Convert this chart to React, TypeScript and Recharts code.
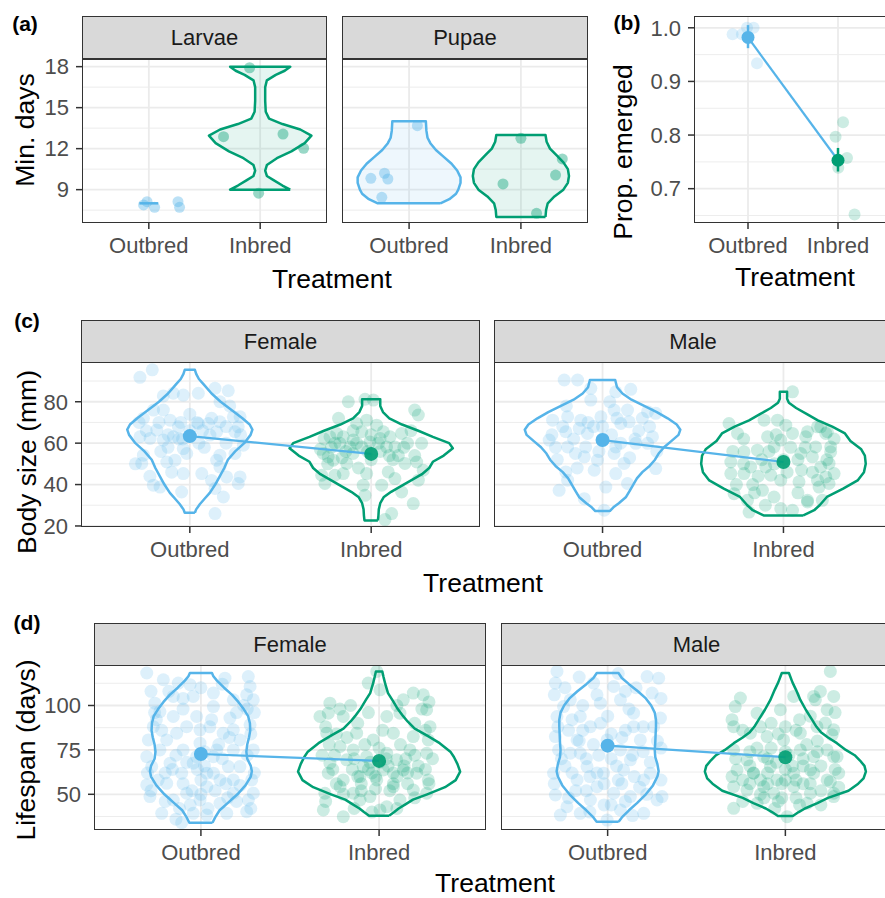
import * as React from 'react';
import { ComposedChart, Scatter, XAxis, YAxis, CartesianGrid } from 'recharts';

const FONT = '"Liberation Sans", Arial, Helvetica, sans-serif';
const BLUE = '#56B4E9';
const GREEN = '#009E73';

const treatments = ['Outbred', 'Inbred'];

// ---- (a) development time ----
const minDaysTicks = [9, 12, 15, 18];
const minDaysMinor = [7.5, 10.5, 13.5, 16.5];
const larvaeOutbredPts = [[0.984, 8.12], [0.953, 7.88], [1.052, 7.71], [1.262, 8.12], [1.276, 7.71]];
const larvaeInbredPts = [[1.905, 17.92], [1.671, 12.88], [2.205, 13.07], [2.39, 12.03], [1.986, 8.74]];
const pupaeOutbredPts = [[1.074, 13.68], [0.658, 9.83], [0.78, 10.2], [0.81, 9.78], [0.756, 8.44]];
const pupaeInbredPts = [[2.0, 12.76], [2.37, 11.25], [2.31, 10.07], [1.84, 9.42], [2.14, 7.27]];
// violin profiles: [value, half width]
const larvaeOutbredViolin = [[8, 0.085]];
const larvaeInbredViolin = [[9, 0.27], [9.3, 0.2], [9.7, 0.12], [10, 0.06], [10.4, 0.045], [10.8, 0.06], [11.3, 0.15], [11.8, 0.28], [12.4, 0.4], [12.95, 0.46], [13.4, 0.36], [13.8, 0.2], [14.2, 0.08], [14.7, 0.05], [15.5, 0.045], [16.5, 0.045], [17, 0.06], [17.4, 0.14], [17.7, 0.22], [18, 0.27]];
const pupaeOutbredViolin = [[8, 0.28], [8.3, 0.36], [8.7, 0.42], [9.0, 0.44], [9.5, 0.46], [9.9, 0.46], [10.4, 0.43], [10.9, 0.38], [11.4, 0.31], [11.9, 0.24], [12.4, 0.19], [12.8, 0.165], [13.3, 0.155], [14, 0.15]];
const pupaeInbredViolin = [[7, 0.22], [7.5, 0.225], [8, 0.24], [8.5, 0.3], [9, 0.38], [9.5, 0.42], [10, 0.43], [10.5, 0.42], [11, 0.38], [11.5, 0.32], [12, 0.26], [12.5, 0.23], [13, 0.22]];

// ---- (b) emergence ----
const emergedTicks = [0.7, 0.8, 0.9, 1.0];
const emergedMinor = [0.65, 0.75, 0.85, 0.95];
const emergedOutbredPts = [[0.829, 0.988], [0.933, 0.988], [0.989, 1.0], [1.062, 1.0], [1.1, 0.934]];
const emergedInbredPts = [[2.056, 0.824], [1.973, 0.797], [2.1, 0.757], [2.003, 0.739], [2.184, 0.652]];
const emergedMeans = [[1, 0.982], [2, 0.753]];
const emergedOutbredCI = [[1, 0.962], [1, 1.005]];
const emergedInbredCI = [[2, 0.732], [2, 0.776]];

// ---- (c) body size ----
const bodyTicks = [20, 40, 60, 80];
const bodyMinor = [30, 50, 70, 90];
const bodyFemaleOutbredPts = [[0.725, 91.8], [0.793, 95.4], [0.854, 82.8], [0.909, 84.1], [0.964, 83.2], [1.047, 84.1], [1.139, 86.5], [1.212, 85.3], [1.166, 80.0], [0.744, 72.0], [0.854, 76.0], [0.891, 71.1], [0.937, 67.9], [0.818, 66.3], [0.781, 62.3], [0.725, 63.1], [0.854, 61.5], [0.909, 63.1], [1.047, 69.5], [1.102, 69.5], [1.166, 70.3], [1.24, 72.7], [1.277, 72.7], [1.267, 67.9], [1.249, 65.5], [1.148, 65.5], [1.111, 63.9], [1.295, 59.0], [0.964, 57.4], [0.983, 55.0], [0.744, 54.2], [0.735, 50.2], [0.873, 50.9], [0.918, 51.8], [1.166, 54.2], [1.148, 51.8], [1.249, 55.0], [0.964, 45.3], [1.066, 45.3], [1.166, 48.5], [1.203, 43.7], [1.277, 43.7], [1.267, 40.5], [0.799, 39.7], [0.836, 38.8], [0.955, 36.4], [1.139, 38.1], [1.185, 34.0], [1.139, 26.0], [0.7, 50], [0.95, 70], [1.0, 74], [1.05, 60], [0.88, 58], [1.2, 60], [1.07, 66], [0.83, 70], [0.78, 44], [0.72, 70], [0.76, 66], [0.8, 76], [0.88, 64], [0.94, 62], [1.0, 66], [1.04, 70], [1.12, 72], [1.2, 68], [1.28, 64], [1.22, 78], [1.08, 58], [0.96, 62], [0.84, 56], [0.9, 46], [1.12, 42]];
const bodyFemaleInbredPts = [[1.874, 80.0], [1.966, 81.2], [2.012, 80.8], [2.26, 73.6], [1.773, 63.1], [1.846, 63.1], [1.901, 61.5], [1.993, 60.6], [2.049, 62.3], [2.104, 63.1], [2.168, 64.7], [2.278, 59.9], [1.736, 55.0], [1.763, 53.4], [1.828, 59.9], [1.883, 58.2], [1.948, 58.2], [2.085, 58.2], [2.131, 58.2], [1.92, 69.5], [1.975, 71.1], [2.03, 68.7], [2.067, 65.5], [1.948, 65.5], [1.791, 51.8], [1.865, 50.2], [2.186, 50.2], [2.251, 50.9], [2.287, 46.9], [2.26, 42.1], [1.727, 44.5], [1.745, 40.5], [1.8, 44.5], [1.846, 45.3], [1.975, 45.3], [2.094, 46.1], [2.131, 42.9], [2.058, 39.7], [1.956, 39.7], [1.966, 34.8], [2.168, 36.4], [2.232, 30.8], [2.113, 26.0], [2.076, 23.1], [1.81, 64.7], [1.9, 55], [2.0, 52], [2.15, 54], [1.78, 58], [2.22, 66], [2.05, 56], [1.93, 48], [2.2, 60], [1.72, 57], [1.74, 62], [1.8, 60], [1.86, 56], [1.92, 60], [1.98, 56], [2.04, 60], [2.1, 54], [2.18, 58], [2.24, 54], [1.76, 50], [1.84, 53], [2.12, 52], [1.9, 66], [2.0, 64], [2.24, 76], [1.82, 72]];
const bodyMaleOutbredPts = [[0.788, 90.5], [0.862, 90.5], [0.935, 86.5], [1.156, 86.0], [1.073, 84.8], [0.935, 80.8], [1.064, 76.0], [1.138, 76.0], [1.249, 75.2], [1.294, 74.4], [0.724, 71.1], [0.807, 72.7], [0.88, 71.1], [0.991, 72.7], [1.101, 69.5], [1.147, 70.3], [0.797, 65.5], [0.871, 67.1], [0.917, 64.7], [0.705, 61.5], [0.807, 58.2], [0.907, 58.2], [1.073, 58.2], [1.184, 59.9], [1.249, 59.9], [1.276, 63.1], [0.899, 53.4], [0.972, 51.8], [1.064, 55.0], [1.119, 50.2], [1.294, 47.7], [0.797, 46.1], [0.807, 42.1], [0.76, 37.2], [1.018, 38.8], [1.138, 40.5], [0.899, 33.2], [1.009, 27.6], [1.073, 45.3], [0.954, 46.9], [1.0, 62], [1.2, 66], [0.85, 55], [1.15, 53], [0.95, 68], [1.22, 72], [0.75, 52], [1.05, 64], [0.72, 64], [0.78, 68], [0.84, 62], [0.92, 70], [1.0, 68], [1.08, 72], [1.18, 62], [1.26, 68], [1.3, 56], [0.86, 48], [0.98, 56], [1.1, 60], [0.74, 58], [1.04, 80], [0.8, 78]];
const bodyMaleInbredPts = [[1.699, 69.5], [1.746, 64.7], [1.893, 71.1], [1.967, 71.1], [2.05, 84.8], [2.013, 68.7], [2.05, 64.7], [2.133, 65.5], [2.188, 67.9], [1.912, 63.1], [1.948, 58.2], [1.856, 56.6], [1.782, 55.8], [1.709, 50.9], [1.709, 45.3], [1.782, 45.3], [1.819, 48.5], [1.902, 48.5], [1.93, 44.5], [1.985, 42.1], [2.086, 41.3], [2.096, 55.0], [2.16, 53.4], [2.206, 48.5], [2.234, 43.7], [2.252, 40.5], [1.727, 35.6], [1.801, 32.4], [1.81, 26.7], [1.884, 37.2], [1.948, 34.0], [1.985, 28.4], [2.05, 27.6], [2.133, 32.4], [2.215, 32.4], [1.985, 61.5], [2.243, 65.5], [2.261, 58.2], [2.206, 67.9], [2.234, 64.7], [2.123, 63.1], [2.261, 55.8], [2.178, 58.2], [2.252, 50.2], [2.28, 45.3], [2.188, 42.1], [2.197, 38.8], [2.133, 31.6], [2.0, 52], [1.88, 52], [2.1, 47], [1.78, 62], [1.95, 50], [2.04, 58], [1.83, 40], [1.72, 56], [1.78, 50], [1.86, 44], [1.92, 56], [2.02, 46], [2.08, 52], [2.16, 46], [2.24, 52], [1.74, 40], [1.84, 36], [1.9, 30], [2.08, 36], [2.28, 62], [1.96, 64], [2.12, 58]];
const bodyFemaleOutbredViolin = [[26.4, 0.028], [28, 0.035], [30.5, 0.055], [33, 0.08], [36, 0.11], [40, 0.14], [44, 0.165], [48, 0.19], [52, 0.21], [56, 0.25], [60, 0.3], [64, 0.335], [66.5, 0.345], [69, 0.33], [72, 0.29], [76, 0.23], [80, 0.17], [84, 0.12], [88, 0.08], [91, 0.05], [93.5, 0.035], [95.4, 0.028]];
const bodyFemaleInbredViolin = [[22.7, 0.037], [25, 0.04], [28, 0.042], [31, 0.05], [34, 0.07], [36.5, 0.11], [39, 0.16], [42, 0.22], [45, 0.28], [48, 0.32], [51, 0.34], [54, 0.4], [57.5, 0.45], [60, 0.43], [63, 0.34], [66, 0.26], [69, 0.17], [72, 0.1], [75, 0.065], [78, 0.05], [81.2, 0.05]];
const bodyMaleOutbredViolin = [[27.2, 0.04], [29, 0.06], [31, 0.09], [34, 0.13], [37, 0.15], [40, 0.17], [43, 0.19], [46, 0.22], [49, 0.26], [52, 0.29], [55, 0.31], [58, 0.34], [61, 0.38], [64, 0.42], [66.5, 0.43], [69, 0.41], [72, 0.36], [75, 0.3], [78, 0.23], [81, 0.16], [84, 0.11], [87, 0.08], [90.5, 0.07]];
const bodyMaleInbredViolin = [[25.1, 0.11], [27.6, 0.17], [30, 0.2], [34, 0.24], [38, 0.33], [42, 0.41], [46, 0.445], [50, 0.455], [54, 0.45], [57, 0.43], [61, 0.37], [64.7, 0.34], [68, 0.27], [71, 0.19], [74, 0.13], [77, 0.07], [79.5, 0.03], [81.5, 0.02], [84.8, 0.02]];
const bodyMeansFemale = [[1, 63.4], [2, 54.8]];
const bodyMeansMale = [[1, 61.5], [2, 50.9]];

// ---- (d) lifespan ----
const lifeTicks = [50, 75, 100];
const lifeMinor = [37.5, 62.5, 87.5, 112.5];
const lifeFemaleOutbredPts = [[0.696, 118.3], [0.789, 114.5], [0.873, 112.6], [0.939, 111.7], [1.135, 115.4], [1.266, 116.3], [1.276, 110.7], [1.257, 106.0], [1.294, 103.2], [0.742, 101.3], [0.77, 96.6], [0.733, 88.1], [0.705, 80.6], [0.696, 71.2], [0.724, 65.6], [0.696, 55.3], [0.714, 48.7], [0.78, 39.3], [0.892, 34.0], [1.033, 38.3], [1.145, 39.3], [1.257, 40.2], [1.294, 50.6], [1.266, 46.8], [1.285, 58.1], [1.219, 65.6], [1.294, 75.0], [1.219, 80.6], [1.276, 89.1], [1.182, 86.3], [1.163, 92.9], [1.07, 99.4], [0.976, 93.8], [0.92, 88.1], [0.864, 84.4], [0.845, 93.8], [0.808, 80.6], [0.827, 67.5], [0.808, 56.2], [0.892, 61.9], [0.957, 67.5], [1.07, 61.9], [1.107, 58.1], [1.154, 65.6], [1.07, 71.2], [0.995, 78.8], [1.089, 75.0], [0.92, 50.6], [0.995, 46.8], [1.107, 44.9], [1.182, 50.6], [1.033, 54.3], [0.845, 46.8], [0.957, 39.3], [1.07, 107.0], [1.182, 103.2], [0.957, 105.1], [0.845, 105.1], [0.995, 86.3], [1.125, 84.4], [0.9, 75.0], [0.976, 71.2], [1.182, 75.0], [0.77, 75.0], [1.033, 61.9], [1.182, 58.1], [0.75, 92], [0.8, 62], [0.9, 98], [1.0, 58], [1.05, 88], [1.2, 96], [0.86, 72], [1.12, 70], [0.95, 52], [1.22, 55], [0.78, 86], [1.26, 98], [1.02, 66], [0.88, 42], [1.15, 48], [1.28, 84], [0.72, 108], [0.74, 96], [0.82, 108], [0.9, 104], [1.0, 110], [1.12, 112], [1.24, 100], [1.3, 96], [0.7, 62], [0.76, 58], [0.84, 64], [0.92, 68], [1.02, 74], [1.1, 78], [1.16, 82], [1.26, 72], [1.3, 62], [0.72, 52], [0.8, 46], [0.9, 56], [1.0, 50], [1.08, 52], [1.2, 46], [1.28, 42], [0.86, 36], [0.94, 44], [1.04, 42], [1.14, 56], [0.98, 64], [1.06, 92]];
const lifeFemaleInbredPts = [[1.987, 119.2], [2.005, 108.8], [1.939, 112.6], [2.192, 107.0], [2.248, 106.0], [2.136, 103.2], [2.267, 97.6], [2.286, 88.1], [2.117, 95.7], [1.724, 101.3], [1.715, 95.7], [1.668, 93.8], [1.799, 93.8], [2.043, 93.8], [1.706, 84.4], [1.874, 84.4], [1.967, 80.6], [2.08, 84.4], [2.192, 82.5], [2.276, 80.6], [2.173, 75.0], [2.267, 73.1], [1.781, 76.9], [1.855, 75.0], [1.93, 71.2], [2.043, 73.1], [2.099, 69.4], [1.724, 67.5], [1.818, 69.4], [1.911, 65.6], [2.024, 63.7], [2.136, 63.7], [2.211, 61.9], [2.276, 58.1], [1.715, 61.9], [1.799, 58.1], [1.893, 60.0], [1.987, 58.1], [2.08, 54.3], [2.192, 52.4], [2.267, 50.6], [1.696, 50.6], [1.781, 54.3], [1.855, 50.6], [1.949, 48.7], [2.117, 46.8], [2.043, 43.0], [1.687, 41.2], [1.799, 37.4], [1.893, 46.8], [2.005, 41.2], [1.95, 68], [2.05, 66], [1.85, 64], [2.15, 70], [1.9, 56], [2.1, 60], [1.75, 72], [2.22, 66], [2.0, 76], [1.82, 82], [2.12, 78], [1.96, 62], [2.06, 52], [1.88, 90], [2.2, 90], [2.24, 98], [1.76, 56], [2.16, 56], [1.92, 78], [2.02, 86], [1.86, 70], [2.08, 62], [1.98, 53], [2.26, 64], [1.72, 78], [1.7, 88], [1.78, 98], [1.84, 100], [1.94, 96], [2.1, 100], [2.28, 102], [1.68, 72], [1.74, 64], [1.8, 50], [1.9, 52], [1.98, 60], [2.04, 70], [2.14, 66], [2.2, 72], [2.3, 70], [1.7, 46], [1.86, 42], [1.96, 40], [2.1, 42], [2.2, 48], [2.28, 56], [1.88, 60], [1.94, 64], [2.0, 68], [2.08, 56], [2.16, 62], [2.26, 86], [1.76, 84]];
const lifeMaleOutbredPts = [[0.715, 119.2], [0.706, 112.6], [1.222, 116.3], [1.287, 115.4], [1.25, 107.0], [0.752, 99.4], [0.79, 103.2], [0.715, 93.8], [1.297, 92.9], [1.259, 88.1], [0.706, 82.5], [0.724, 75.0], [0.696, 61.9], [0.706, 49.6], [0.734, 38.3], [0.846, 39.3], [0.997, 35.5], [1.072, 41.2], [1.203, 39.3], [1.278, 46.8], [1.306, 48.7], [1.24, 61.9], [1.203, 58.1], [1.128, 69.4], [1.072, 75.0], [0.997, 80.6], [0.903, 88.1], [0.846, 93.8], [0.959, 101.3], [1.072, 103.2], [1.034, 110.7], [0.921, 112.6], [0.828, 80.6], [0.79, 73.1], [0.884, 65.6], [0.828, 58.1], [0.94, 54.3], [1.034, 50.6], [1.128, 48.7], [0.903, 46.8], [0.977, 61.9], [1.09, 63.7], [1.184, 80.6], [1.146, 88.1], [1.146, 95.7], [0.846, 73.1], [0.771, 43.0], [0.88, 70], [0.95, 72], [1.05, 66], [1.15, 60], [0.8, 92], [1.0, 94], [1.1, 86], [1.2, 74], [0.92, 78], [1.02, 84], [0.86, 100], [1.12, 98], [0.76, 66], [1.24, 68], [0.98, 56], [1.08, 56], [0.9, 60], [1.18, 54], [0.82, 52], [1.02, 44], [0.94, 106], [1.1, 108], [0.78, 86], [1.28, 80], [0.7, 106], [0.76, 110], [0.84, 116], [1.06, 118], [1.16, 110], [1.3, 104], [0.72, 88], [0.74, 70], [0.8, 62], [0.86, 86], [0.96, 90], [1.08, 82], [1.2, 88], [1.3, 76], [0.7, 56], [0.78, 48], [0.88, 52], [0.98, 44], [1.1, 46], [1.22, 50], [1.3, 58], [0.9, 40], [1.14, 38], [1.02, 70], [1.14, 72], [0.94, 62], [1.06, 58], [0.84, 80]];
const lifeMaleInbredPts = [[2.253, 119.2], [2.272, 105.1], [2.159, 105.1], [2.235, 97.6], [1.747, 104.2], [1.718, 99.4], [1.841, 95.7], [1.972, 97.6], [2.047, 105.1], [1.709, 88.1], [1.803, 84.4], [1.897, 82.5], [1.99, 80.6], [2.084, 84.4], [2.178, 88.1], [2.272, 86.3], [1.709, 75.0], [1.784, 69.4], [1.878, 71.2], [2.084, 75.0], [2.159, 71.2], [2.235, 75.0], [2.272, 71.2], [1.728, 63.7], [1.821, 61.9], [1.916, 65.6], [1.953, 58.1], [2.047, 61.9], [2.141, 63.7], [2.235, 58.1], [1.709, 54.3], [1.784, 52.4], [1.878, 54.3], [1.934, 50.6], [2.047, 54.3], [2.141, 50.6], [2.272, 50.6], [1.709, 42.1], [1.841, 44.9], [2.01, 37.4], [2.122, 44.9], [2.197, 107.9], [2.169, 103.2], [2.225, 90.1], [2.263, 83.5], [2.291, 71.2], [2.3, 61.9], [2.253, 57.1], [2.272, 48.7], [2.159, 61.9], [1.95, 68], [2.0, 64], [2.1, 66], [1.86, 58], [1.92, 76], [2.02, 72], [2.12, 78], [1.8, 66], [2.2, 66], [1.98, 56], [2.06, 48], [1.9, 62], [2.14, 56], [1.76, 58], [2.0, 88], [1.92, 90], [2.08, 92], [1.84, 76], [2.18, 80], [1.96, 46], [1.88, 48], [2.06, 58], [1.7, 92], [1.76, 86], [1.86, 88], [1.96, 84], [2.06, 86], [2.14, 94], [2.28, 96], [1.72, 70], [1.8, 74], [1.9, 70], [2.0, 74], [2.1, 70], [2.18, 74], [2.28, 64], [1.7, 60], [1.8, 56], [1.9, 56], [2.0, 58], [2.1, 56], [2.2, 52], [2.3, 54], [1.76, 46], [1.86, 50], [1.98, 48], [2.08, 44], [2.2, 44], [1.94, 42], [1.82, 62], [2.04, 66]];
const lifeFemaleOutbredViolin = [[34, 0.065], [37, 0.08], [41, 0.105], [45, 0.15], [50, 0.205], [55, 0.25], [60, 0.28], [63, 0.286], [66, 0.28], [70, 0.26], [74, 0.255], [78, 0.26], [82, 0.27], [86, 0.277], [90, 0.275], [94, 0.265], [98, 0.24], [102, 0.21], [106, 0.175], [110, 0.13], [114, 0.09], [116.5, 0.07], [118.3, 0.062]];
const lifeFemaleInbredViolin = [[37.9, 0.056], [40, 0.085], [42, 0.11], [44.5, 0.15], [47, 0.19], [50, 0.27], [54, 0.37], [58, 0.43], [62.8, 0.455], [67, 0.44], [71, 0.42], [74, 0.4], [78.8, 0.34], [83, 0.27], [87, 0.2], [91, 0.16], [94, 0.135], [98, 0.105], [103, 0.075], [107, 0.05], [112, 0.035], [116, 0.025], [119.2, 0.018]];
const lifeMaleOutbredViolin = [[34.6, 0.062], [37, 0.08], [41, 0.12], [45, 0.165], [50, 0.215], [55, 0.255], [60, 0.28], [63, 0.287], [67, 0.28], [71, 0.268], [75, 0.265], [79, 0.268], [84, 0.27], [88, 0.272], [92, 0.272], [96, 0.265], [100, 0.245], [104, 0.215], [108, 0.17], [112, 0.12], [115.5, 0.08], [118.3, 0.061]];
const lifeMaleInbredViolin = [[37.8, 0.042], [40, 0.075], [42, 0.11], [45, 0.18], [48, 0.24], [52, 0.355], [56, 0.41], [59, 0.44], [62.8, 0.453], [66, 0.445], [69, 0.42], [72, 0.39], [75, 0.34], [78.8, 0.29], [82, 0.24], [85, 0.2], [88, 0.175], [92, 0.15], [97.6, 0.115], [103, 0.085], [108.8, 0.06], [113, 0.04], [118.3, 0.02]];
const lifeMeansFemale = [[1, 72.7], [2, 68.8]];
const lifeMeansMale = [[1, 77.4], [2, 70.9]];

type Pt = { x: number; y: number };
const toPts = (arr: number[][]): Pt[] => arr.map(([x, y]) => ({ x, y }));
const outlineOf = (center: number, prof: number[][]): Pt[] => {
  if (prof.length === 1) {
    const [y, w] = prof[0];
    return [{ x: center - w, y }, { x: center + w, y }];
  }
  const right = prof.map(([y, w]) => ({ x: center + w, y }));
  const left = [...prof].reverse().map(([y, w]) => ({ x: center - w, y }));
  return [...right, ...left, right[0]];
};

const Y_AXIS_W = 60;
const X_AXIS_H = 44;
const TOP_PAD = 14; // room above the panel so the top tick label isn't clipped

type Rect = { left: number; top: number; width: number; height: number };

const NoShape = () => <g />;

const dots = (key: string, arr: number[][], r: number, color: string, opacity: number) => (
  <Scatter
    key={key}
    data={toPts(arr)}
    isAnimationActive={false}
    shape={(p: any) => <circle cx={p.cx} cy={p.cy} r={r} fill={color} fillOpacity={opacity} />}
  />
);

const path = (key: string, data: Pt[], color: string, width: number, fill = 'none', fillOpacity = 1) => (
  <Scatter
    key={key}
    data={data}
    isAnimationActive={false}
    line={{ stroke: color, strokeWidth: width, fill, fillOpacity, strokeLinejoin: 'round' }}
    shape={NoShape}
  />
);

function Facet({ rect, yDomain, yTicks, yMinor, showY, fmt, children }: {
  rect: Rect; yDomain: number[]; yTicks: number[]; yMinor: number[]; showY: boolean;
  fmt?: (v: number) => string; children: React.ReactNode;
}) {
  const yW = showY ? Y_AXIS_W : 0;
  const w = rect.width + yW;
  const h = rect.height + X_AXIS_H + TOP_PAD;
  return (
    <div style={{ position: 'absolute', left: rect.left - yW, top: rect.top - TOP_PAD, width: w, height: h }}>
      <ComposedChart width={w} height={h} margin={{ top: TOP_PAD, right: 0, bottom: 0, left: 0 }}>
        <CartesianGrid horizontalValues={yMinor} vertical={false} stroke="#EBEBEB" strokeWidth={0.9} />
        <CartesianGrid horizontalValues={yTicks} verticalValues={[1, 2]} stroke="#EBEBEB" strokeWidth={1.8} />
        <XAxis
          type="number"
          dataKey="x"
          domain={[0.4, 2.6]}
          ticks={[1, 2]}
          interval={0}
          allowDataOverflow
          height={X_AXIS_H}
          axisLine={false}
          tickSize={6}
          tickMargin={8}
          tickLine={{ stroke: '#333333', strokeWidth: 1.5 }}
          tick={{ fill: '#4D4D4D', fontSize: 22 }}
          tickFormatter={(v: number) => treatments[Math.round(v) - 1]}
        />
        <YAxis
          type="number"
          dataKey="y"
          domain={yDomain}
          ticks={yTicks}
          interval={0}
          allowDataOverflow
          hide={!showY}
          width={Y_AXIS_W}
          axisLine={false}
          tickSize={6}
          tickMargin={7}
          tickLine={{ stroke: '#333333', strokeWidth: 1.5 }}
          tick={{ fill: '#4D4D4D', fontSize: 22 }}
          tickFormatter={fmt}
        />
        {children}
      </ComposedChart>
      <div style={{ position: 'absolute', left: yW, top: TOP_PAD, width: rect.width, height: rect.height, border: '1.5px solid #333333', boxSizing: 'border-box', pointerEvents: 'none' }} />
    </div>
  );
}

const Strip = ({ left, top, width, text }: { left: number; top: number; width: number; text: string }) => (
  <div style={{ position: 'absolute', left, top, width, height: 43, background: '#D9D9D9', border: '1.5px solid #333333', boxSizing: 'border-box', display: 'flex', alignItems: 'center', justifyContent: 'center', fontSize: 22, color: '#1A1A1A' }}>
    {text}
  </div>
);

const Label = ({ x, y, text, size = 26.5, rotate = false, bold = false }: { x: number; y: number; text: string; size?: number; rotate?: boolean; bold?: boolean }) => (
  <div style={{ position: 'absolute', left: x, top: y, transform: `translate(-50%, -50%)${rotate ? ' rotate(-90deg)' : ''}`, fontSize: size, fontWeight: bold ? 700 : 400, whiteSpace: 'nowrap', lineHeight: 1, color: '#000' }}>
    {text}
  </div>
);

const A_L: Rect = { left: 82, top: 59, width: 245, height: 164 };
const A_P: Rect = { left: 342, top: 59, width: 246, height: 164 };
const B: Rect = { left: 694, top: 16, width: 198, height: 207 };
const C_F: Rect = { left: 81, top: 362, width: 399, height: 165 };
const C_M: Rect = { left: 494, top: 362, width: 398, height: 165 };
const D_F: Rect = { left: 94, top: 665, width: 392, height: 165 };
const D_M: Rect = { left: 501, top: 665, width: 391, height: 165 };

const sexLayers = (k: string, out: number[][], inb: number[][], vOut: number[][], vInb: number[][], means: number[][]) => [
  dots(k + 'po', out, 6.5, BLUE, 0.2),
  dots(k + 'pi', inb, 6.5, GREEN, 0.2),
  path(k + 'vo', outlineOf(1, vOut), BLUE, 2.5),
  path(k + 'vi', outlineOf(2, vInb), GREEN, 2.5),
  path(k + 'ml', toPts(means), BLUE, 2.2),
  dots(k + 'mo', [means[0]], 7, BLUE, 1),
  dots(k + 'mi', [means[1]], 7, GREEN, 0.9),
];

export default function App() {
  return (
    <div style={{ position: 'fixed', left: 0, top: 0, width: 885, height: 898, overflow: 'hidden', background: '#fff', fontFamily: FONT }}>
      <Strip left={82} top={16} width={245} text="Larvae" />
      <Strip left={342} top={16} width={246} text="Pupae" />
      <Strip left={81} top={320} width={399} text="Female" />
      <Strip left={494} top={320} width={398} text="Male" />
      <Strip left={94} top={623} width={392} text="Female" />
      <Strip left={501} top={623} width={391} text="Male" />

      {/* (a) */}
      <Facet rect={A_L} yDomain={[6.56, 18.56]} yTicks={minDaysTicks} yMinor={minDaysMinor} showY>
        {path('lvo', outlineOf(1, larvaeOutbredViolin), BLUE, 2.5)}
        {path('lvi', outlineOf(2, larvaeInbredViolin), GREEN, 2.5, GREEN, 0.1)}
        {dots('lpo', larvaeOutbredPts, 5.5, BLUE, 0.4)}
        {dots('lpi', larvaeInbredPts, 5.5, GREEN, 0.4)}
      </Facet>
      <Facet rect={A_P} yDomain={[6.56, 18.56]} yTicks={minDaysTicks} yMinor={minDaysMinor} showY={false}>
        {path('pvo', outlineOf(1, pupaeOutbredViolin), BLUE, 2.5, BLUE, 0.1)}
        {path('pvi', outlineOf(2, pupaeInbredViolin), GREEN, 2.5, GREEN, 0.1)}
        {dots('ppo', pupaeOutbredPts, 5.5, BLUE, 0.4)}
        {dots('ppi', pupaeInbredPts, 5.5, GREEN, 0.4)}
      </Facet>
      <Label x={25} y={23} text="(a)" size={21} bold />
      <Label x={25} y={130} text="Min. days" rotate />
      <Label x={332} y={279} text="Treatment" />

      {/* (b) */}
      <Facet rect={B} yDomain={[0.636, 1.022]} yTicks={emergedTicks} yMinor={emergedMinor} showY fmt={(v) => v.toFixed(1)}>
        {dots('epo', emergedOutbredPts, 6, BLUE, 0.2)}
        {dots('epi', emergedInbredPts, 6, GREEN, 0.2)}
        {path('eml', toPts(emergedMeans), BLUE, 2.2)}
        {path('eco', toPts(emergedOutbredCI), BLUE, 2.5)}
        {path('eci', toPts(emergedInbredCI), GREEN, 2.5)}
        {dots('emo', [emergedMeans[0]], 6.5, BLUE, 1)}
        {dots('emi', [emergedMeans[1]], 6.5, GREEN, 1)}
      </Facet>
      <Label x={627} y={22} text="(b)" size={21} bold />
      <Label x={623} y={152} text="Prop. emerged" rotate />
      <Label x={795} y={277} text="Treatment" />

      {/* (c) */}
      <Facet rect={C_F} yDomain={[19.5, 99.2]} yTicks={bodyTicks} yMinor={bodyMinor} showY>
        {sexLayers('cf', bodyFemaleOutbredPts, bodyFemaleInbredPts, bodyFemaleOutbredViolin, bodyFemaleInbredViolin, bodyMeansFemale)}
      </Facet>
      <Facet rect={C_M} yDomain={[19.5, 99.2]} yTicks={bodyTicks} yMinor={bodyMinor} showY={false}>
        {sexLayers('cm', bodyMaleOutbredPts, bodyMaleInbredPts, bodyMaleOutbredViolin, bodyMaleInbredViolin, bodyMeansMale)}
      </Facet>
      <Label x={27} y={320} text="(c)" size={21} bold />
      <Label x={27} y={462} text="Body size (mm)" rotate />
      <Label x={483} y={583} text="Treatment" />

      {/* (d) */}
      <Facet rect={D_F} yDomain={[29.9, 122.8]} yTicks={lifeTicks} yMinor={lifeMinor} showY>
        {sexLayers('df', lifeFemaleOutbredPts, lifeFemaleInbredPts, lifeFemaleOutbredViolin, lifeFemaleInbredViolin, lifeMeansFemale)}
      </Facet>
      <Facet rect={D_M} yDomain={[29.9, 122.8]} yTicks={lifeTicks} yMinor={lifeMinor} showY={false}>
        {sexLayers('dm', lifeMaleOutbredPts, lifeMaleInbredPts, lifeMaleOutbredViolin, lifeMaleInbredViolin, lifeMeansMale)}
      </Facet>
      <Label x={27} y={622} text="(d)" size={21} bold />
      <Label x={26} y={750} text="Lifespan (days)" rotate />
      <Label x={495} y={883} text="Treatment" />
    </div>
  );
}
